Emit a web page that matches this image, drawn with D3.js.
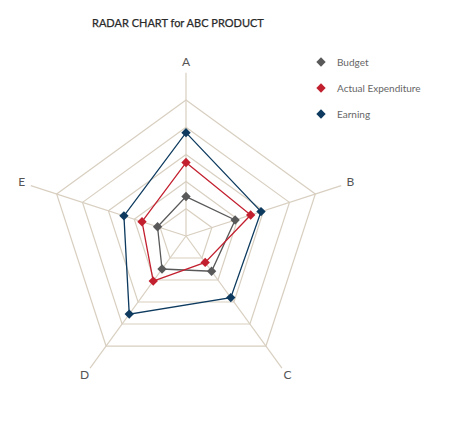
<!DOCTYPE html>
<html>
<head>
<meta charset="utf-8">
<script src="https://cdn.jsdelivr.net/npm/d3@7"></script>
<style>
  body { margin: 0; background: #fff; }
  text { font-family: Lato, "Open Sans", sans-serif; }
</style>
</head>
<body>
<div id="radar"></div>
<script>
const width = 474;
const height = 423;

// data (0-100 scale)
const axes = ["A", "B", "C", "D", "E"];
const seriesNames = ["Budget", "Actual Expenditure", "Earning"];
const budget = [29, 38, 32, 30, 22];
const actual = [54, 50, 24, 41, 34];
const earning = [76, 58, 56, 71, 48];
const ringTicks = [20, 40, 60, 80, 100];
const colors = ["#595959", "#c3202f", "#0d3a5e"];

const series = [budget, actual, earning];

const cx = 186, cy = 236, R = 136;

var svg = d3.select("#radar")
  .append("svg")
  .attr("width", width)
  .attr("height", height);

var r = d3.scaleLinear().domain([0, 100]).range([0, R]);
var angle = d3.scalePoint().domain(axes).range([0, 2 * Math.PI * 4 / 5]);

function pt(axis, v) {
  var a = angle(axis);
  return [cx + r(v) * Math.sin(a), cy - r(v) * Math.cos(a)];
}

// title
svg.append("text")
  .attr("x", 92)
  .attr("y", 27)
  .attr("font-size", 11)
  .attr("fill", "#2a2a2a")
  .attr("stroke", "#2a2a2a")
  .attr("stroke-width", 0.25)
  .text("RADAR CHART for ABC PRODUCT");

var grid = svg.append("g").attr("class", "grid");

// rings
grid.selectAll("polygon")
  .data(ringTicks)
  .enter()
  .append("polygon")
  .attr("points", (t) => axes.map((a) => pt(a, t).join(",")).join(" "))
  .attr("fill", "none")
  .attr("stroke", "#d8cfc0")
  .attr("stroke-width", 1.2);

// spokes
grid.selectAll("line")
  .data(axes)
  .enter()
  .append("line")
  .attr("x1", cx)
  .attr("y1", cy)
  .attr("x2", (a) => pt(a, 120)[0])
  .attr("y2", (a) => pt(a, 120)[1])
  .attr("stroke", "#d8cfc0")
  .attr("stroke-width", 1.2);

// axis labels
svg.append("g")
  .selectAll("text")
  .data(axes)
  .enter()
  .append("text")
  .attr("x", (a) => pt(a, 127)[0])
  .attr("y", (a) => pt(a, 127)[1] + 3)
  .attr("text-anchor", "middle")
  .attr("font-size", 12)
  .attr("fill", "#555")
  .text((d) => d);

var line = d3.line().curve(d3.curveLinearClosed);
var diamond = d3.symbol().type(d3.symbolDiamond2).size(56);

var plots = svg.append("g")
  .selectAll("g")
  .data(series)
  .enter()
  .append("g");

plots.append("path")
  .attr("d", (vals) => line(vals.map((v, i) => pt(axes[i], v))))
  .attr("fill", "none")
  .attr("stroke", (d, i) => colors[i])
  .attr("stroke-width", 1.3);

plots.selectAll("path.mark")
  .data((vals, i) => vals.map((v, j) => ({ p: pt(axes[j], v), c: colors[i] })))
  .enter()
  .append("path")
  .attr("class", "mark")
  .attr("d", diamond)
  .attr("transform", (d) => "translate(" + d.p[0] + "," + d.p[1] + ")")
  .attr("fill", (d) => d.c);

// legend
var legend = svg.append("g")
  .selectAll("g")
  .data(seriesNames)
  .enter()
  .append("g")
  .attr("transform", (d, i) => "translate(321," + (62 + i * 26) + ")");

legend.append("path")
  .attr("d", diamond)
  .attr("fill", (d, i) => colors[i]);

legend.append("text")
  .attr("x", 16)
  .attr("y", 3.5)
  .attr("font-size", 10)
  .attr("fill", "#666")
  .text((d) => d);
</script>
</body>
</html>
